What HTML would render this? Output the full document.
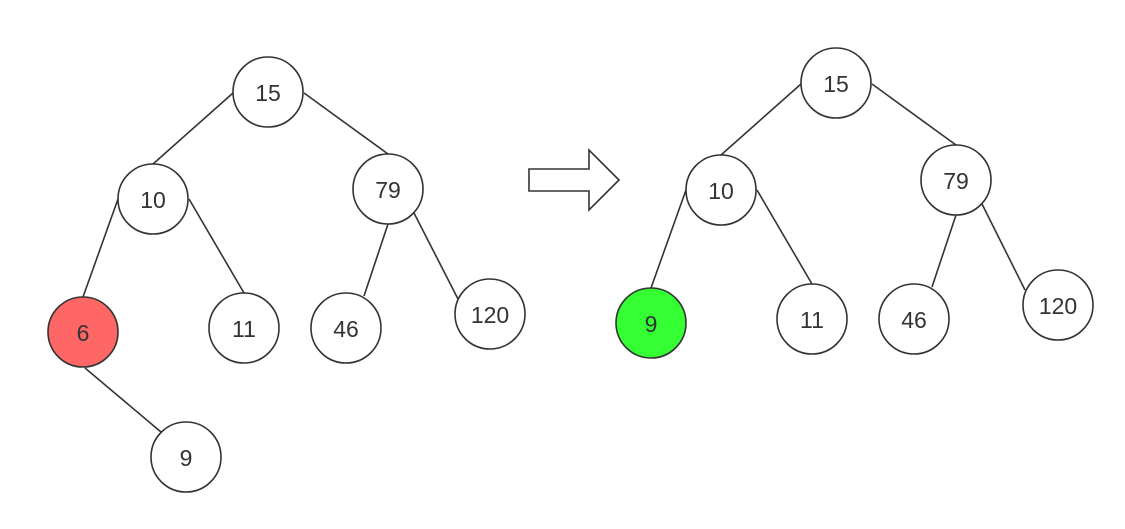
<!DOCTYPE html>
<html><head><meta charset="utf-8"><style>
html,body{margin:0;padding:0;background:#fff;}
svg text{font-family:"Liberation Sans","DejaVu Sans",sans-serif;font-size:23px;fill:#333;text-anchor:middle;dominant-baseline:central;}
</style></head><body>
<svg width="1125" height="524" viewBox="0 0 1125 524" xmlns="http://www.w3.org/2000/svg">
<g stroke="#333" stroke-width="1.6" fill="none">
<line x1="233" y1="93" x2="153" y2="164"/>
<line x1="304" y1="93" x2="388" y2="154"/>
<line x1="118" y1="199" x2="83" y2="297"/>
<line x1="189" y1="199" x2="244" y2="293"/>
<line x1="388" y1="224" x2="364" y2="296"/>
<line x1="414" y1="213" x2="458" y2="299"/>
<line x1="85" y1="368" x2="161" y2="432"/>
<line x1="801" y1="84" x2="721" y2="155"/>
<line x1="872" y1="84" x2="956" y2="145"/>
<line x1="686" y1="190" x2="651" y2="288"/>
<line x1="757" y1="190" x2="812" y2="284"/>
<line x1="956" y1="215" x2="932" y2="287"/>
<line x1="982" y1="204" x2="1025" y2="290"/>
<polygon points="529,169 589,169 589,150 619,180 589,210 589,191 529,191" fill="#fff"/>
</g>
<g stroke="#333" stroke-width="1.6" fill="#fff">
<ellipse cx="268" cy="92" rx="35" ry="35"/>
<ellipse cx="153" cy="199" rx="35" ry="35"/>
<ellipse cx="388" cy="189" rx="35" ry="35"/>
<ellipse cx="83" cy="332" rx="35" ry="35" fill="#ff6666"/>
<ellipse cx="244" cy="328" rx="35" ry="35"/>
<ellipse cx="346" cy="328" rx="35" ry="35"/>
<ellipse cx="490" cy="314" rx="35" ry="35"/>
<ellipse cx="186" cy="457" rx="35" ry="35"/>
<ellipse cx="836" cy="83" rx="35" ry="35"/>
<ellipse cx="721" cy="190" rx="35" ry="35"/>
<ellipse cx="956" cy="180" rx="35" ry="35"/>
<ellipse cx="651" cy="323" rx="35" ry="35" fill="#33ff33"/>
<ellipse cx="812" cy="319" rx="35" ry="35"/>
<ellipse cx="914" cy="319" rx="35" ry="35"/>
<ellipse cx="1058" cy="305" rx="35" ry="35"/>
</g>
<text x="268" y="93">15</text>
<text x="153" y="200">10</text>
<text x="388" y="190">79</text>
<text x="83" y="333">6</text>
<text x="244" y="329">11</text>
<text x="346" y="329">46</text>
<text x="490" y="315">120</text>
<text x="186" y="458">9</text>
<text x="836" y="84">15</text>
<text x="721" y="191">10</text>
<text x="956" y="181">79</text>
<text x="651" y="324">9</text>
<text x="812" y="320">11</text>
<text x="914" y="320">46</text>
<text x="1058" y="306">120</text>
</svg>
</body></html>
